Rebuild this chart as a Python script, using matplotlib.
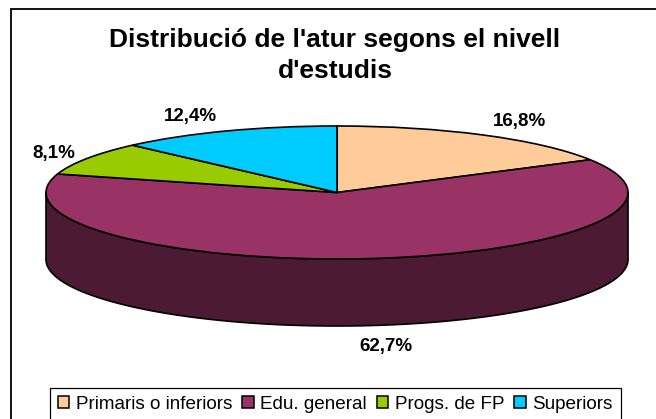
import numpy as np
import matplotlib
matplotlib.use("Agg")
import matplotlib.pyplot as plt
from matplotlib.patches import Polygon, Patch

categories = ["Primaris o inferiors", "Edu. general", "Progs. de FP", "Superiors"]
values = [16.8, 62.7, 8.1, 12.4]
value_labels = ["16,8%", "62,7%", "8,1%", "12,4%"]
colors = ["#FFCC99", "#993366", "#99CC00", "#00CCFF"]
side_color = "#4D1A33"
title = "Distribució de l'atur segons el nivell\nd'estudis"

W, H = 656, 419
cx, cy, rx, ry, depth_px = 337, 192.5, 291, 66.5, 67

plt.rcParams["font.family"] = ["Liberation Sans", "DejaVu Sans"]
fig = plt.figure(figsize=(W / 100, H / 100), dpi=100, facecolor="white")
ax = fig.add_axes([0, 0, 1, 1])

ax.pie(values, colors=colors, startangle=90, counterclock=False, radius=1,
       center=(0, 0), wedgeprops=dict(edgecolor="black", linewidth=1.2), frame=False)
ax.set_aspect("auto")
ax.set_xlim(-cx / rx, (W - cx) / rx)
ax.set_ylim(-(H - cy) / ry, cy / ry)
ax.axis("off")

# Extruded rim: the front half of the ellipse, lowered by the pie depth
depth = depth_px / ry
t = np.radians(np.linspace(180, 360, 181))
rim_x, rim_y = np.cos(t), np.sin(t)
side = np.vstack([np.column_stack([rim_x, rim_y]),
                  np.column_stack([rim_x[::-1], rim_y[::-1] - depth])])
ax.add_patch(Polygon(side, closed=True, facecolor=side_color, edgecolor="black",
                     linewidth=1.2, zorder=0.5))

def px(x, y):
    return ((x - cx) / rx, (cy - y) / ry)

ax.text(*px(335, 55.5), title, ha="center", va="center", fontsize=19,
        fontweight="bold", color="black", linespacing=1.42)

label_pos = [(519, 121), (386, 346), (54, 153), (190, 116)]
for lab, (x, y) in zip(value_labels, label_pos):
    ax.text(*px(x, y), lab, ha="center", va="center", fontsize=13.5,
            fontweight="bold", color="black")

# Outer chart frame: only top and left edges fall inside the picture
ax.plot(*zip(px(11, H), px(11, 8.5), px(W, 8.5)), color="black", lw=1.3,
        solid_joinstyle="miter", clip_on=False)

handles = [Patch(facecolor=c, edgecolor="black", linewidth=1.1) for c in colors]
leg = fig.legend(handles, categories, ncol=4, loc="upper left",
                 bbox_to_anchor=(50 / W, 1 - 388 / H), fontsize=13.6,
                 frameon=True, fancybox=False, edgecolor="black", framealpha=1,
                 handlelength=0.6, handleheight=0.6, handletextpad=0.36,
                 columnspacing=0.52, borderpad=0.42, borderaxespad=0)
leg.get_frame().set_linewidth(0.9)

fig.savefig("out.png", dpi=100)
